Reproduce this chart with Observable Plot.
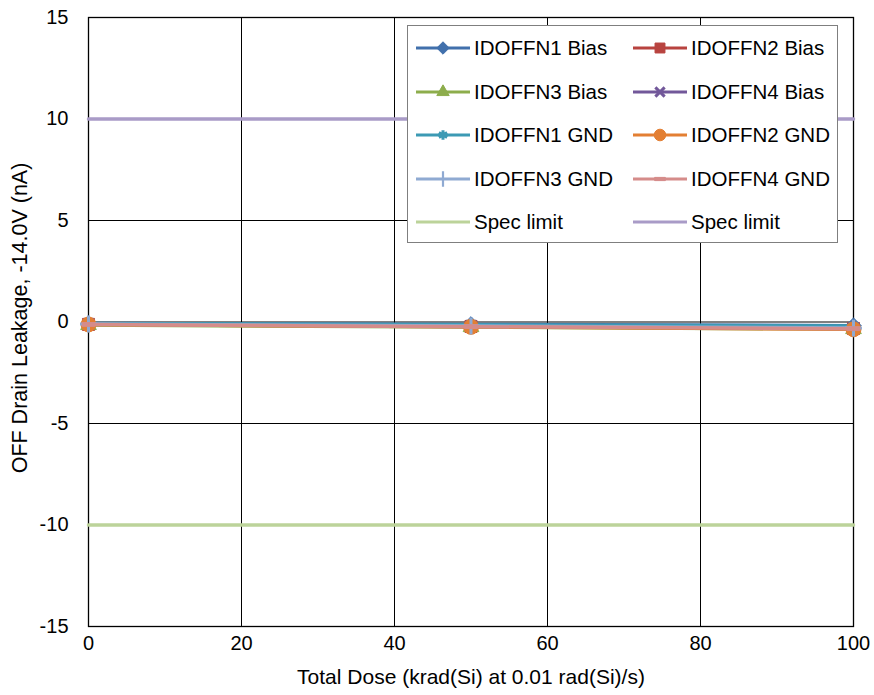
<!DOCTYPE html>
<html>
<head>
<meta charset="utf-8">
<script src="https://cdn.jsdelivr.net/npm/d3@7"></script>
<script src="https://cdn.jsdelivr.net/npm/@observablehq/plot@0.6"></script>
<style>
  html, body { margin: 0; padding: 0; background: #fff; }
  #wrap { position: relative; width: 874px; height: 695px; font-family: "Liberation Sans", Arial, sans-serif; }
  #legend { position: absolute; left: 407px; top: 25px; width: 431px; height: 218px; border: 1px solid #7f7f7f; background: #fff; box-sizing: border-box; }
  .entry { position: absolute; height: 24px; display: flex; align-items: center; font-size: 20.5px; color: #000; white-space: nowrap; }
  .entry svg { margin-right: 4px; }
</style>
</head>
<body>
<div id="wrap"><div id="legend"></div></div>
<script>
// ---- data ----
const doses = [0, 50, 100];
const seriesNames = ["IDOFFN1 Bias", "IDOFFN2 Bias", "IDOFFN3 Bias", "IDOFFN4 Bias",
                     "IDOFFN1 GND", "IDOFFN2 GND", "IDOFFN3 GND", "IDOFFN4 GND"];
const seriesValues = [
  [-0.08, -0.12, -0.18],
  [-0.12, -0.22, -0.32],
  [-0.15, -0.25, -0.35],
  [-0.10, -0.20, -0.30],
  [-0.07, -0.14, -0.20],
  [-0.12, -0.24, -0.36],
  [-0.10, -0.20, -0.30],
  [-0.12, -0.23, -0.33]
];
const seriesColors = ["#4170AC", "#B8433F", "#8DAD4C", "#72589A", "#3C9AB4", "#E37F33", "#8FAAD2", "#D58C8A"];
const seriesSymbols = ["diamond2", "square", "triangle", "times", "asterisk", "circle", "plus", "dash"];
const specNames = ["Spec limit", "Spec limit"];
const specValues = [-10, 10];
const specColors = ["#BCD39A", "#A99BC7"];
const xTicks = [0, 20, 40, 60, 80, 100];
const yTicks = [-15, -10, -5, 0, 5, 10, 15];
const xTitle = "Total Dose (krad(Si) at 0.01 rad(Si)/s)";
const yTitle = "OFF Drain Leakage, -14.0V (nA)";

// ---- symbols ----
const dashSymbol = { draw(ctx, size) { const w = Math.sqrt(size) * 0.55; const h = w * 0.3; ctx.rect(-w, -h, 2 * w, 2 * h); } };
const d3Sym = { diamond2: d3.symbolDiamond2, square: d3.symbolSquare, triangle: d3.symbolTriangle, times: d3.symbolTimes,
                asterisk: d3.symbolAsterisk, circle: d3.symbolCircle, plus: d3.symbolPlus, dash: dashSymbol };
const strokeOnly = new Set(["times", "asterisk", "plus"]);
const symSize = { diamond2: 7, square: 6.8, triangle: 5.8, times: 5, asterisk: 5.5, circle: 7.5, plus: 5.5, dash: 6.5 };
const legSize = { diamond2: 5.6, square: 5.6, triangle: 4.6, times: 4.3, asterisk: 4.5, circle: 5.8, plus: 5, dash: 5.5 };

const rows = [];
seriesNames.forEach((name, i) => doses.forEach((d, j) => rows.push({ series: name, idx: i, dose: d, value: seriesValues[i][j] })));
const specRows = [];
specNames.forEach((n, i) => [0, 100].forEach(d => specRows.push({ idx: i, dose: d, value: specValues[i] })));

const marks = [
  Plot.gridX(xTicks, { stroke: "#000", strokeOpacity: 1, strokeWidth: 1 }),
  Plot.gridY(yTicks, { stroke: "#000", strokeOpacity: 1, strokeWidth: 1 }),
  Plot.frame({ stroke: "#000", strokeWidth: 1.3 }),
  Plot.axisX(xTicks, { tickSize: 0, tickPadding: 9, label: null, fontSize: 20, tickFormat: d => String(d) }),
  Plot.axisY(yTicks, { tickSize: 0, tickPadding: 20, label: null, fontSize: 20, tickFormat: d => String(d) }),
  Plot.text([xTitle], { frameAnchor: "bottom", dy: 57, text: d => d, fontSize: 21 }),
  Plot.text([yTitle], { frameAnchor: "left", textAnchor: "middle", dx: -68, dy: -4, rotate: -90, text: d => d, fontSize: 21.5 })
];
specNames.forEach((n, i) => {
  marks.push(Plot.line(specRows.filter(r => r.idx === i), { x: "dose", y: "value", stroke: specColors[i], strokeWidth: 3.5 }));
});
seriesNames.forEach((name, i) => {
  const data = rows.filter(r => r.idx === i);
  const s = seriesSymbols[i];
  marks.push(Plot.line(data, { x: "dose", y: "value", stroke: seriesColors[i], strokeWidth: 3.5 }));
  const sym = s === "dash" ? dashSymbol : s;
  if (strokeOnly.has(s)) {
    marks.push(Plot.dot(data, { x: "dose", y: "value", symbol: () => sym, r: symSize[s], stroke: seriesColors[i], strokeWidth: 3, fill: "none" }));
  } else {
    marks.push(Plot.dot(data, { x: "dose", y: "value", symbol: () => sym, r: symSize[s], fill: seriesColors[i], stroke: seriesColors[i], strokeWidth: 1 }));
  }
});

const chart = Plot.plot({
  width: 874, height: 695,
  marginLeft: 88, marginRight: 21, marginTop: 17, marginBottom: 69,
  x: { domain: [0, 100] },
  y: { domain: [-15, 15] },
  symbol: { type: "identity" },
  style: { fontFamily: "'Liberation Sans', Arial, sans-serif", fontSize: "20px", color: "#000", background: "#fff", overflow: "visible" },
  marks
});
document.getElementById("wrap").prepend(chart);

// ---- legend ----
const legend = d3.select("#legend");
const entries = seriesNames.map((n, i) => ({ name: n, color: seriesColors[i], symbol: seriesSymbols[i] }))
  .concat(specNames.map((n, i) => ({ name: n, color: specColors[i], symbol: null })));
entries.forEach((e, k) => {
  const col = k % 2, row = Math.floor(k / 2);
  const div = legend.append("div").attr("class", "entry")
    .style("left", (8 + col * 217) + "px").style("top", (22 + row * 43.5 - 12) + "px");
  const svg = div.append("svg").attr("width", 54).attr("height", 24);
  svg.append("line").attr("x1", 0).attr("x2", 54).attr("y1", 12).attr("y2", 12).attr("stroke", e.color).attr("stroke-width", 3.2);
  if (e.symbol) {
    const r = legSize[e.symbol];
    const path = d3.symbol(d3Sym[e.symbol], Math.PI * r * r)();
    const p = svg.append("path").attr("d", path).attr("transform", "translate(27,12)");
    if (strokeOnly.has(e.symbol)) p.attr("fill", "none").attr("stroke", e.color).attr("stroke-width", e.symbol === "plus" ? 2.2 : 3);
    else p.attr("fill", e.color).attr("stroke", e.color);
  }
  div.append("span").text(e.name);
});
</script>
</body>
</html>
